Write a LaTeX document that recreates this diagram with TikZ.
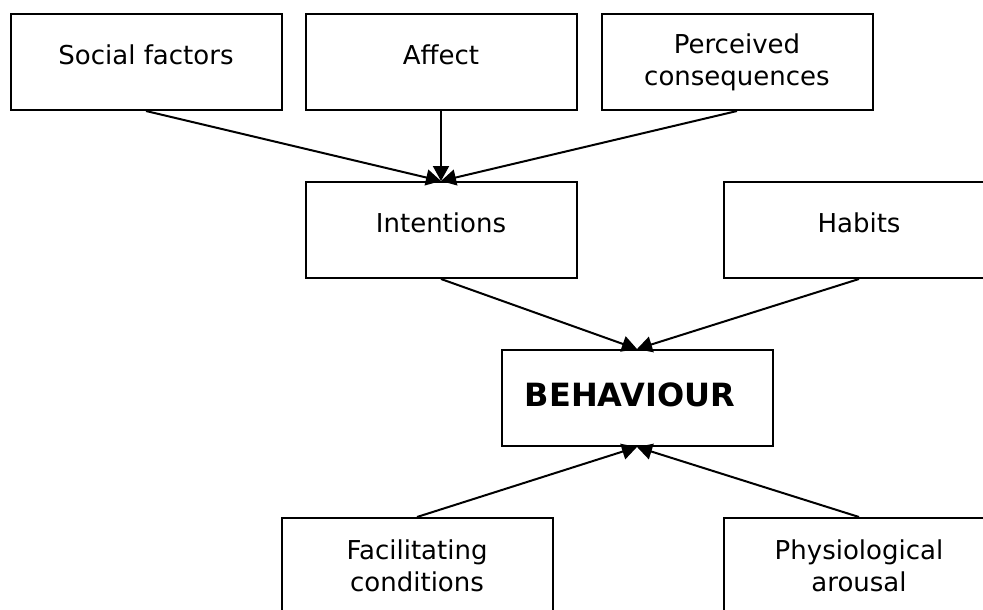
\documentclass[tikz,border=0pt]{standalone}
\usepackage{fontspec}
\setmainfont{DejaVu Sans}
\usetikzlibrary{arrows.meta}
\begin{document}
\begin{tikzpicture}[x=1pt,y=-1pt,
  box/.style={draw=black, line width=2pt, minimum width=271pt, minimum height=96pt,
    inner sep=0pt, align=center, font=\fontsize{26}{32}\selectfont},
  oneline/.style={text height=20pt, text depth=15pt},
  mainbox/.style={box, font=\fontsize{32}{36}\selectfont\bfseries, text height=24pt, text depth=8pt},
  link/.style={line width=2pt, -{Triangle[length=15pt,width=16pt]}}]
  \useasboundingbox (0,0) rectangle (983,610);
  \clip (0,0) rectangle (983,610);

  % top row: determinants of intention
  \node[box, oneline] (social) at (146,62) {Social factors};
  \node[box, oneline] (affect) at (441,62) {Affect};
  \node[box] (cons) at (737,62) {Perceived\\consequences};

  % middle row
  \node[box, oneline] (intent) at (441,230) {Intentions};
  \node[box, oneline] (habits) at (859,230) {Habits};

  % outcome
  \node[mainbox] (beh) at (637,398) {BEHAVIOUR\hspace{14pt}};

  % bottom row: moderating conditions
  \node[box] (facil) at (417,566) {Facilitating\\conditions};
  \node[box] (arousal) at (859,566) {Physiological\\arousal};

  % connectors
  \draw[link] (social.south) -- (intent.north);
  \draw[link] (affect.south) -- (intent.north);
  \draw[link] (cons.south) -- (intent.north);
  \draw[link] (intent.south) -- (beh.north);
  \draw[link] (habits.south) -- (beh.north);
  \draw[link] (facil.north) -- (beh.south);
  \draw[link] (arousal.north) -- (beh.south);
\end{tikzpicture}
\end{document}
